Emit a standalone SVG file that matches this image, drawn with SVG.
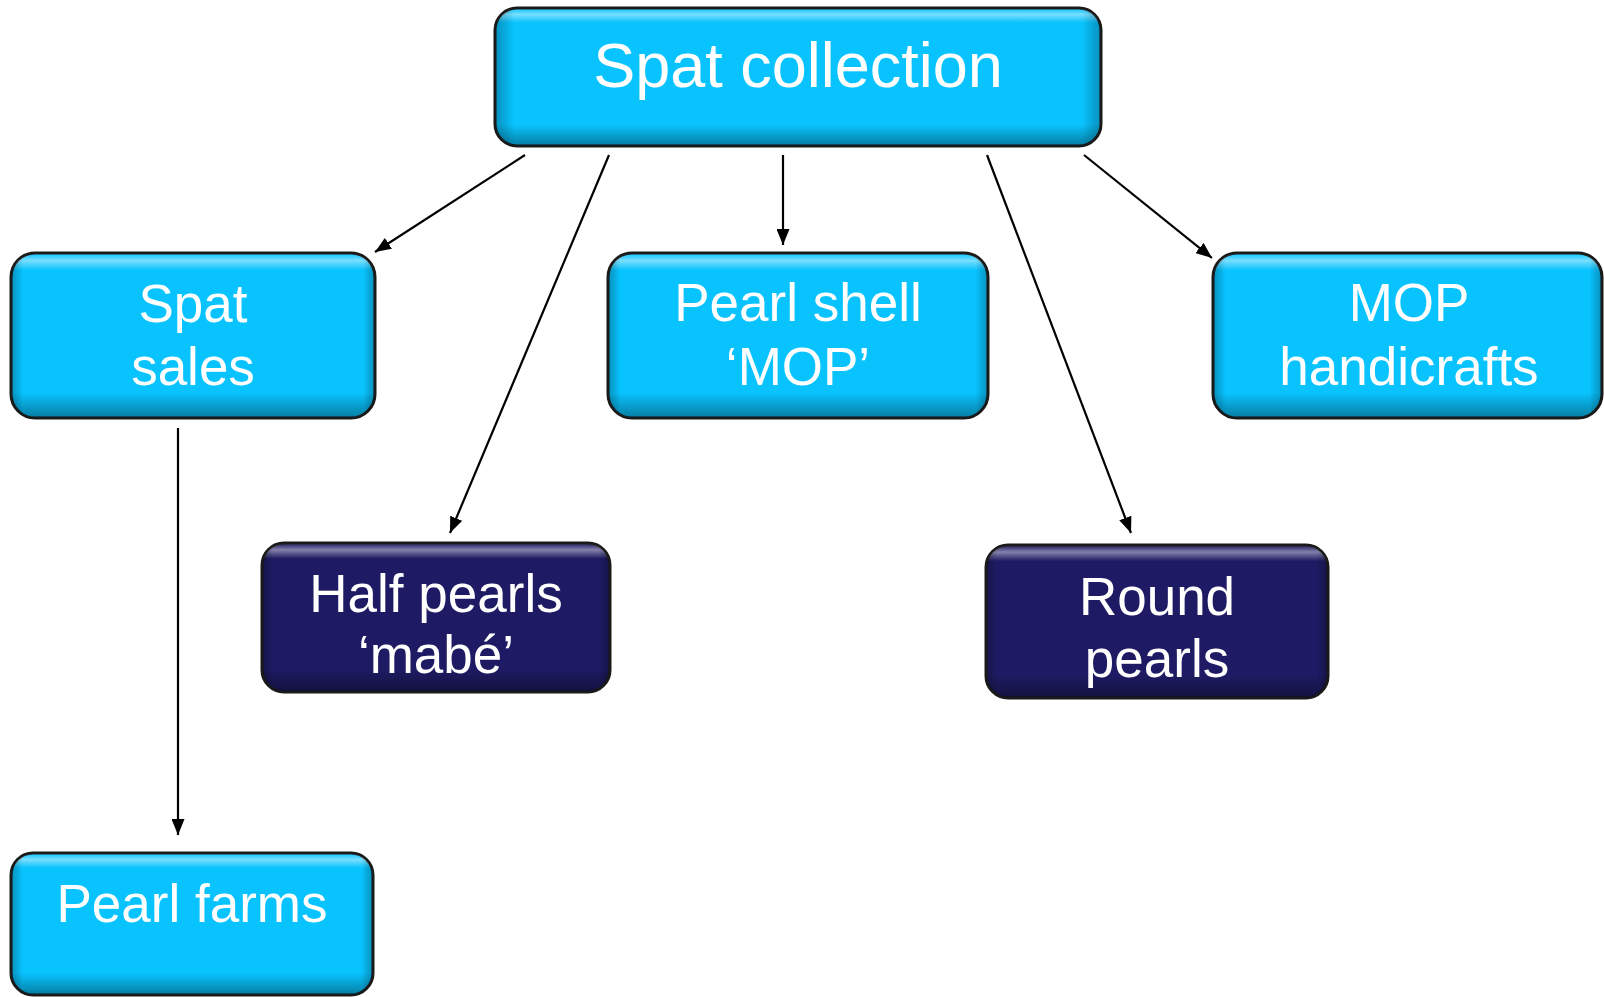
<svg xmlns="http://www.w3.org/2000/svg" width="1604" height="997" viewBox="0 0 1604 997">
<defs>
<style>
.box-c{fill:#09C3FE;stroke:#1a1a1a;stroke-width:3}
.box-n{fill:#1E1B64;stroke:#1a1a1a;stroke-width:3}
.bevel{fill:url(#bevel);stroke:none}
.side{fill:url(#side);stroke:none}
.lbl{font-family:"Liberation Sans",Arial,sans-serif;fill:#ffffff;text-anchor:middle;font-size:53px}
.conn line{stroke:#000;stroke-width:2.2;marker-end:url(#arr)}
</style>
<linearGradient id="bevel" x1="0" y1="0" x2="0" y2="1">
<stop offset="0" stop-color="#ffffff" stop-opacity="0.05"/>
<stop offset="0.04" stop-color="#ffffff" stop-opacity="0.45"/>
<stop offset="0.1" stop-color="#ffffff" stop-opacity="0"/>
<stop offset="0.85" stop-color="#000000" stop-opacity="0"/>
<stop offset="1" stop-color="#000000" stop-opacity="0.35"/>
</linearGradient>
<linearGradient id="side" x1="0" y1="0" x2="1" y2="0">
<stop offset="0" stop-color="#000000" stop-opacity="0.25"/>
<stop offset="0.03" stop-color="#000000" stop-opacity="0"/>
<stop offset="0.97" stop-color="#000000" stop-opacity="0"/>
<stop offset="1" stop-color="#000000" stop-opacity="0.25"/>
</linearGradient>
<marker id="arr" viewBox="0 0 16 13" refX="16" refY="6.5" markerWidth="16" markerHeight="13" markerUnits="userSpaceOnUse" orient="auto">
<path d="M0,0 L16,6.5 L0,13 Z" fill="#000"/>
</marker>
</defs>
<rect width="1604" height="997" fill="#ffffff"/>
<g id="connectors" class="conn">
<line x1="525" y1="155" x2="375" y2="252"/>
<line x1="609" y1="155" x2="450" y2="533"/>
<line x1="783" y1="155" x2="783" y2="245"/>
<line x1="987" y1="155" x2="1131" y2="533"/>
<line x1="1084" y1="155" x2="1212" y2="258"/>
<line x1="178" y1="428" x2="178" y2="835"/>
</g>
<g id="spat-collection">
<rect class="box-c" x="495" y="8" width="606" height="138" rx="22"/>
<rect class="bevel" x="496" y="9" width="604" height="136" rx="21"/>
<rect class="side" x="496" y="9" width="604" height="136" rx="21"/>
<text class="lbl" x="798" y="87" style="font-size:63px">Spat collection</text>
</g>
<g id="spat-sales">
<rect class="box-c" x="11" y="253" width="364" height="165" rx="24"/>
<rect class="bevel" x="12" y="254" width="362" height="163" rx="23"/>
<rect class="side" x="12" y="254" width="362" height="163" rx="23"/>
<text class="lbl" x="193" y="322">Spat</text>
<text class="lbl" x="193" y="385">sales</text>
</g>
<g id="pearl-shell">
<rect class="box-c" x="608" y="253" width="380" height="165" rx="24"/>
<rect class="bevel" x="609" y="254" width="378" height="163" rx="23"/>
<rect class="side" x="609" y="254" width="378" height="163" rx="23"/>
<text class="lbl" x="798" y="321">Pearl shell</text>
<text class="lbl" x="798" y="385">‘MOP’</text>
</g>
<g id="mop-handicrafts">
<rect class="box-c" x="1213" y="253" width="389" height="165" rx="24"/>
<rect class="bevel" x="1214" y="254" width="387" height="163" rx="23"/>
<rect class="side" x="1214" y="254" width="387" height="163" rx="23"/>
<text class="lbl" x="1409" y="321">MOP</text>
<text class="lbl" x="1409" y="385">handicrafts</text>
</g>
<g id="half-pearls">
<rect class="box-n" x="262" y="543" width="348" height="149" rx="22"/>
<rect class="bevel" x="263" y="544" width="346" height="147" rx="21"/>
<rect class="side" x="263" y="544" width="346" height="147" rx="21"/>
<text class="lbl" x="436" y="612">Half pearls</text>
<text class="lbl" x="436" y="673">‘mabé’</text>
</g>
<g id="round-pearls">
<rect class="box-n" x="986" y="545" width="342" height="153" rx="22"/>
<rect class="bevel" x="987" y="546" width="340" height="151" rx="21"/>
<rect class="side" x="987" y="546" width="340" height="151" rx="21"/>
<text class="lbl" x="1157" y="615">Round</text>
<text class="lbl" x="1157" y="677">pearls</text>
</g>
<g id="pearl-farms">
<rect class="box-c" x="11" y="853" width="362" height="142" rx="22"/>
<rect class="bevel" x="12" y="854" width="360" height="140" rx="21"/>
<rect class="side" x="12" y="854" width="360" height="140" rx="21"/>
<text class="lbl" x="192" y="922">Pearl farms</text>
</g>
</svg>
